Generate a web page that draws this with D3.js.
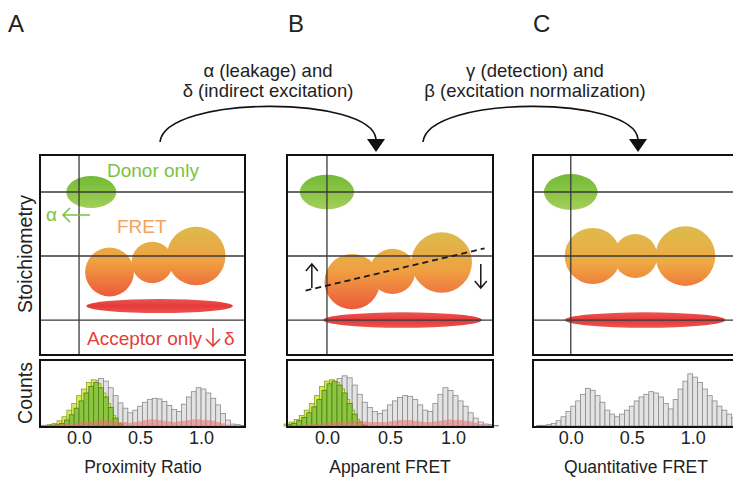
<!DOCTYPE html>
<html>
<head>
<meta charset="utf-8">
<script src="https://cdn.jsdelivr.net/npm/d3@7"></script>
<style>
  body { margin: 0; background: #fff; }
  svg { font-family: "Liberation Sans", Arial, sans-serif; }
</style>
</head>
<body>
<svg id="chart"></svg>
<script>
// ---- data ----
const binCenters = [-0.30,-0.26,-0.22,-0.18,-0.14,-0.10,-0.06,-0.02,0.02,0.06,0.10,0.14,0.18,0.22,0.26,0.30,0.34,0.38,0.42,0.46,0.50,0.54,0.58,0.62,0.66,0.70,0.74,0.78,0.82,0.86,0.90,0.94,0.98,1.02,1.06,1.10,1.14,1.18,1.22,1.26,1.30,1.34];
const binWidth = 0.04;

const grayA   = [1,1,2,3,6,12,20,30,42,52,62,69,72,68,58,46,35,27,20,24,30,36,40,42,41,37,31,25,22,33,44,52,58,56,50,42,32,19,9,3,2,1];
const greenA  = [0,0,1,2,4,9,17,27,38,50,60,66,58,44,28,12,3,0,0,0,0,0,0,0,0,0,0,0,0,0,0,0,0,0,0,0,0,0,0,0,0,0];
const yellowA = [0,0,2,4,8,14,24,34,46,56,66,70,64,50,34,16,4,0,0,0,0,0,0,0,0,0,0,0,0,0,0,0,0,0,0,0,0,0,0,0,0,0];
const pinkA   = [1,2,2,3,3,4,4,5,6,6,7,8,9,9,8,7,6,6,5,6,7,9,10,10,9,8,7,6,7,8,9,10,10,9,9,8,6,4,2,1,0,0];

const grayB   = [2,3,6,10,16,24,34,46,58,66,72,76,73,62,48,36,28,22,19,24,32,38,43,46,45,40,32,24,22,34,48,58,54,46,38,30,20,12,6,3,2,1];
const greenB  = [2,4,8,13,20,29,40,54,64,68,62,50,34,18,6,1,0,0,0,0,0,0,0,0,0,0,0,0,0,0,0,0,0,0,0,0,0,0,0,0,0,0];
const yellowB = [3,6,10,16,24,34,46,60,68,70,66,56,40,24,10,2,0,0,0,0,0,0,0,0,0,0,0,0,0,0,0,0,0,0,0,0,0,0,0,0,0,0];
const pinkB   = [1,1,2,2,3,3,4,5,5,6,6,7,8,8,8,7,6,6,6,6,7,8,9,9,9,8,7,6,6,7,8,9,10,9,9,8,7,5,3,2,1,0];

const grayC   = [0,1,1,2,4,8,14,22,30,38,48,57,54,46,36,24,18,14,18,24,30,38,44,48,52,50,44,34,26,40,56,68,79,74,66,56,46,38,30,24,18,13];

const tickValues = [0, 0.5, 1.0];
const panelLetters = ["A", "B", "C"];
const axisTitles = ["Proximity Ratio", "Apparent FRET", "Quantitative FRET"];
const annotations = [
  ["α (leakage) and", "δ (indirect excitation)"],
  ["γ (detection) and", "β (excitation normalization)"]
];

// populations in (E, S) per panel
const donorE = [0.10, 0.00, 0.00];
const donorS = [1.00, 1.00, 1.00];
const donorWidth = [0.205, 0.215, 0.22];   // half-width in E
const donorHeight = [0.125, 0.135, 0.14];  // half-height in S
const fretE = [[0.25, 0.60, 0.96], [0.20, 0.52, 0.91], [0.18, 0.53, 0.94]];
const fretS = [[0.375, 0.45, 0.50], [0.30, 0.38, 0.45], [0.50, 0.50, 0.50]];
const fretR = [[0.20, 0.17, 0.24], [0.22, 0.18, 0.24], [0.23, 0.18, 0.245]];
const acceptorE = [0.66, 0.60, 0.61];
const acceptorS = [0.11, 0.00, 0.00];
const acceptorWidth = [0.60, 0.63, 0.66];
const acceptorHeight = [0.055, 0.06, 0.06];
const gammaLineE = [-0.17, 1.25];
const gammaLineS = [0.23, 0.56];

// ---- layout ----
const width = 733;
const height = 478;
const boxTop = 155, boxBottom = 355, histTop = 360, histBottom = 427;
const panels = [
  { left: 40,  right: 245, domain: [-0.32, 1.36] },
  { left: 287, right: 493, domain: [-0.317, 1.317] },
  { left: 533, right: 739, domain: [-0.31, 1.38] }
];
const histData = [
  { gray: grayA, yellow: yellowA, green: greenA, pink: pinkA },
  { gray: grayB, yellow: yellowB, green: greenB, pink: pinkB },
  { gray: grayC }
];

const green = "#7cc242", orange = "#f5a25c", red = "#e2403a", ink = "#222";

const svg = d3.select("#chart")
  .attr("width", width)
  .attr("height", height);

const yS = d3.scaleLinear().domain([-0.273, 1.289]).range([boxBottom, boxTop]);
const yH = d3.scaleLinear().domain([0, 100]).range([histBottom - 1, histTop]);

const defs = svg.append("defs");
const donorGrad = defs.append("linearGradient").attr("id", "gDonor")
  .attr("x1", 0).attr("y1", 0).attr("x2", 0).attr("y2", 1);
donorGrad.append("stop").attr("offset", 0).attr("stop-color", "#73ba37");
donorGrad.append("stop").attr("offset", 1).attr("stop-color", "#a3cf58");

const accGrad = defs.append("linearGradient").attr("id", "gAcc")
  .attr("x1", 0).attr("y1", 0).attr("x2", 0).attr("y2", 1);
accGrad.append("stop").attr("offset", 0).attr("stop-color", "#ea5650");
accGrad.append("stop").attr("offset", 0.5).attr("stop-color", "#e5393a");
accGrad.append("stop").attr("offset", 1).attr("stop-color", "#ea5650");

panels.forEach((p, i) => {
  const x = d3.scaleLinear().domain(p.domain).range([p.left, p.right]);
  const g = svg.append("g").attr("class", "panel");
  const px = e => x(e) - x(0);          // E units -> px
  const ps = s => yS(0) - yS(s);        // S units -> px

  // FRET gradient spans the whole group of circles
  const tops = fretE[i].map((e, k) => yS(fretS[i][k]) - px(fretR[i][k]));
  const bots = fretE[i].map((e, k) => yS(fretS[i][k]) + px(fretR[i][k]));
  const fg = defs.append("linearGradient").attr("id", "gFret" + i)
    .attr("gradientUnits", "userSpaceOnUse")
    .attr("x1", 0).attr("x2", 0)
    .attr("y1", d3.min(tops)).attr("y2", d3.max(bots));
  const fstops = i === 2
    ? [[0, "#dcbb4c"], [0.6, "#eeaa44"], [1, "#ee7c3a"]]
    : [[0, "#dcbb4c"], [0.5, "#f0a042"], [1, "#ec5a3b"]];
  fstops.forEach(s => fg.append("stop").attr("offset", s[0]).attr("stop-color", s[1]));

  // populations
  g.append("ellipse")
    .attr("cx", x(donorE[i])).attr("cy", yS(donorS[i]))
    .attr("rx", px(donorWidth[i])).attr("ry", ps(donorHeight[i]))
    .attr("fill", "url(#gDonor)");

  g.selectAll(".fret").data(fretE[i]).join("circle")
    .attr("class", "fret")
    .attr("cx", d => x(d))
    .attr("cy", (d, k) => yS(fretS[i][k]))
    .attr("r", (d, k) => px(fretR[i][k]))
    .attr("fill", "url(#gFret" + i + ")");

  g.append("ellipse")
    .attr("cx", x(acceptorE[i])).attr("cy", yS(acceptorS[i]))
    .attr("rx", px(acceptorWidth[i])).attr("ry", ps(acceptorHeight[i]))
    .attr("fill", "url(#gAcc)");

  // grid lines
  const grid = g.append("g").attr("stroke", "#3a3a3a").attr("stroke-width", 1.3);
  [1, 0.5, 0].forEach(s => {
    grid.append("line").attr("x1", p.left).attr("x2", p.right)
      .attr("y1", yS(s)).attr("y2", yS(s));
  });
  grid.append("line").attr("x1", x(0)).attr("x2", x(0))
    .attr("y1", boxTop).attr("y2", boxBottom);

  // frame
  g.append("rect").attr("x", p.left).attr("y", boxTop)
    .attr("width", p.right - p.left).attr("height", boxBottom - boxTop)
    .attr("fill", "none").attr("stroke", "#111").attr("stroke-width", 2);

  // ---- histogram ----
  const h = svg.append("g").attr("class", "hist");
  const hd = histData[i];
  const bins = binCenters.map((c, k) => ({ c, k }));
  const barSeries = (vals, shift, fill, stroke, cls) => {
    h.selectAll("." + cls).data(bins.filter(b => vals[b.k] > 0)).join("rect")
      .attr("class", cls)
      .attr("x", b => x(b.c - binWidth / 2 + shift))
      .attr("width", b => x(b.c + binWidth / 2) - x(b.c - binWidth / 2))
      .attr("y", b => yH(vals[b.k]))
      .attr("height", b => yH(0) - yH(vals[b.k]))
      .attr("fill", fill)
      .attr("stroke", stroke)
      .attr("stroke-width", stroke === "none" ? 0 : 0.8);
  };
  barSeries(hd.gray, 0, "#e3e3e3", "#8a8a8a", "gray");
  if (hd.yellow) barSeries(hd.yellow, -binWidth / 2, "#dbeb52", "#86a32a", "yellow");
  if (hd.green) barSeries(hd.green, 0, "#8cc63f", "#4f7d1f", "green");
  if (hd.pink) barSeries(hd.pink, 0, "rgba(238,110,110,0.55)", "none", "pink");

  h.append("rect").attr("x", p.left).attr("y", histTop)
    .attr("width", p.right - p.left).attr("height", histBottom - histTop)
    .attr("fill", "none").attr("stroke", "#111").attr("stroke-width", 2);

  // x axis
  const ax = svg.append("g")
    .attr("transform", `translate(0,${histBottom})`)
    .call(d3.axisBottom(x).tickValues(tickValues).tickFormat(d3.format(".1f"))
      .tickSize(0).tickPadding(4));
  ax.select(".domain").remove();
  ax.selectAll("text").attr("font-size", 18).attr("fill", ink)
    .attr("font-family", "Liberation Sans, Arial, sans-serif");

  svg.append("text")
    .attr("x", (p.left + 206 / 2)).attr("y", 473)
    .attr("text-anchor", "middle").attr("font-size", 17.5).attr("fill", ink)
    .text(axisTitles[i]);

  svg.append("text")
    .attr("x", [8, 288, 533][i]).attr("y", 32)
    .attr("font-size", 24).attr("fill", ink)
    .text(panelLetters[i]);

  // panel-specific annotations
  if (i === 0) {
    g.append("text").attr("x", 107).attr("y", 177)
      .attr("font-size", 19).attr("fill", green).text("Donor only");
    g.append("text").attr("x", 46).attr("y", 221)
      .attr("font-size", 19).attr("fill", green).text("α");
    g.append("path").attr("d", "M90,215H63M70,208L63,215L70,222")
      .attr("fill", "none").attr("stroke", green).attr("stroke-width", 1.6);
    g.append("text").attr("x", 117).attr("y", 233)
      .attr("font-size", 19).attr("fill", orange).text("FRET");
    g.append("text").attr("x", 87).attr("y", 345)
      .attr("font-size", 19).attr("fill", red).text("Acceptor only");
    g.append("path").attr("d", "M213,328V346M206,339L213,346L220,339")
      .attr("fill", "none").attr("stroke", red).attr("stroke-width", 1.6);
    g.append("text").attr("x", 224).attr("y", 345)
      .attr("font-size", 19).attr("fill", red).text("δ");
  }
  if (i === 1) {
    g.append("line")
      .attr("x1", x(gammaLineE[0])).attr("y1", yS(gammaLineS[0]))
      .attr("x2", x(gammaLineE[1])).attr("y2", yS(gammaLineS[1]))
      .attr("stroke", "#1a1a1a").attr("stroke-width", 1.8)
      .attr("stroke-dasharray", "6,4");
    const ux = x(-0.12), dx = x(1.22);
    g.append("path").attr("d", `M${ux},288V264M${ux - 6},271L${ux},264L${ux + 6},271`)
      .attr("fill", "none").attr("stroke", "#1a1a1a").attr("stroke-width", 1.5);
    g.append("path").attr("d", `M${dx},264V288M${dx - 6},281L${dx},288L${dx + 6},281`)
      .attr("fill", "none").attr("stroke", "#1a1a1a").attr("stroke-width", 1.5);
  }
});

// y labels
svg.append("text").attr("transform", "translate(32,254) rotate(-90)")
  .attr("text-anchor", "middle").attr("font-size", 19.5).attr("fill", ink)
  .text("Stoichiometry");
svg.append("text").attr("transform", "translate(32,393) rotate(-90)")
  .attr("text-anchor", "middle").attr("font-size", 19.5).attr("fill", ink)
  .text("Counts");

// correction arrows and captions
const arcs = [
  { x0: 160, x1: 376, cx: 268 },
  { x0: 423, x1: 638, cx: 535 }
];
arcs.forEach((a, k) => {
  svg.append("path")
    .attr("d", `M${a.x0},142C${a.x0 + 5},95 ${a.x1 - 5},95 ${a.x1},139`)
    .attr("fill", "none").attr("stroke", "#111").attr("stroke-width", 1.6);
  svg.append("path")
    .attr("d", `M${a.x1 - 9},139L${a.x1 + 9},139L${a.x1},152Z`)
    .attr("fill", "#111");
  annotations[k].forEach((line, j) => {
    svg.append("text").attr("x", a.cx).attr("y", 77 + j * 20)
      .attr("text-anchor", "middle").attr("font-size", 18.5).attr("fill", ink)
      .text(line);
  });
});
</script>
</body>
</html>
